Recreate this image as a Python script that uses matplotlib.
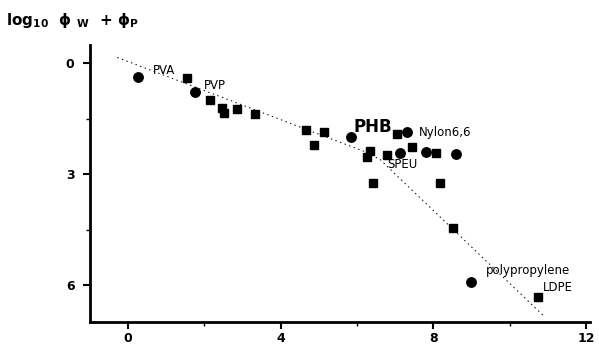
import matplotlib
matplotlib.use("Agg")
from matplotlib import pyplot as plt

# round markers
circ_x = [0.26, 1.75, 5.85, 7.31, 7.13, 7.81, 8.59, 8.98]
circ_y = [0.38, 0.78, 1.99, 1.85, 2.42, 2.39, 2.45, 5.91]

# square markers
sq_x = [1.54, 2.14, 2.45, 2.51, 2.85, 3.32, 4.65, 4.86, 5.14, 7.05,
        6.34, 6.27, 6.79, 7.44, 8.07, 6.42, 8.17, 8.51, 10.73]
sq_y = [0.40, 0.99, 1.21, 1.34, 1.24, 1.37, 1.80, 2.20, 1.85, 1.91,
        2.37, 2.53, 2.47, 2.26, 2.42, 3.23, 3.23, 4.46, 6.32]

# dotted trend line
line_x = [-0.28, 6.2, 6.6, 7.0, 10.9]
line_y = [-0.16, 2.39, 2.6, 3.0, 6.85]

labels = ["PVA", "PVP", "PHB", "Nylon6,6", "SPEU", "polypropylene", "LDPE"]
lab_x = [0.65, 1.98, 5.9, 7.62, 6.79, 9.37, 10.86]
lab_y = [0.19, 0.6, 1.72, 1.88, 2.74, 5.6, 6.08]

fig = plt.figure(figsize=(5.99, 3.48), dpi=100)
ax = fig.add_axes([0.150, 0.075, 0.835, 0.796])

ax.plot(line_x, line_y, color="black", lw=0.7, ls=(0, (1.5, 3.5)))
ax.plot(sq_x, sq_y, "s", color="black", ms=6.2, ls="none")
ax.plot(circ_x, circ_y, "o", color="black", ms=6.8, ls="none")

for t, x, y in zip(labels, lab_x, lab_y):
    if t == "PHB":
        ax.text(x, y, t, fontsize=12, fontweight="bold", va="center", ha="left")
    else:
        ax.text(x, y, t, fontsize=8.5, va="center", ha="left")

ax.set_xlim(-1, 12.1)
ax.set_ylim(7, -0.5)
ax.set_xticks([0, 4, 8, 12])
ax.set_xticks([2, 6, 10], minor=True)
ax.set_yticks([0, 3, 6])
ax.set_yticks([1.5, 4.5], minor=True)

for s in ["top", "right"]:
    ax.spines[s].set_visible(False)
for s in ["left", "bottom"]:
    ax.spines[s].set_linewidth(2)

ax.tick_params(which="major", length=5, width=1.5, labelsize=9)
ax.tick_params(axis="x", which="major", pad=2)
ax.tick_params(axis="y", which="major", pad=6)
ax.tick_params(which="minor", length=3, width=1)
for lab in ax.get_xticklabels() + ax.get_yticklabels():
    lab.set_fontweight("bold")

fig.text(0.01, 0.94, r"log$_{\mathbf{10}}$  $\mathbf{\phi}$ $_{\mathbf{W}}$  + $\mathbf{\phi}_{\mathbf{P}}$",
         fontsize=11, fontweight="bold", va="center")

fig.savefig("out.png", dpi=100)
